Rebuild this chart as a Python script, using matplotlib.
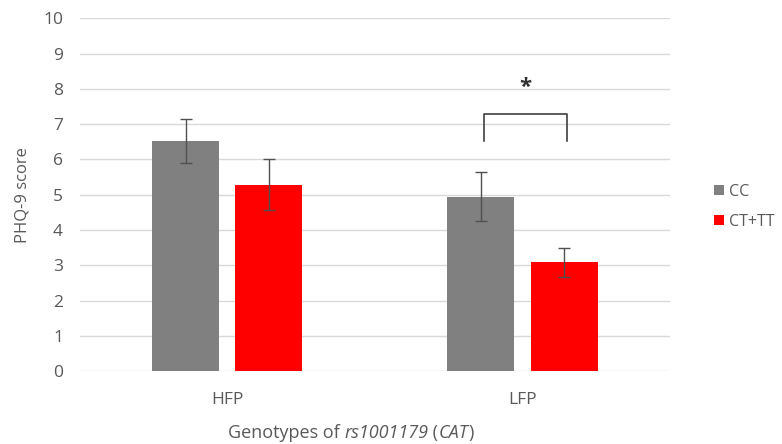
import numpy as np
import matplotlib.pyplot as plt

categories = ["HFP", "LFP"]
series = ["CC", "CT+TT"]
cc_means = [6.52, 4.94]
cc_err = [0.62, 0.69]
ct_means = [5.28, 3.08]
ct_err = [0.72, 0.41]
colors = ["#808080", "#ff0000"]
yticks = list(range(0, 11))

plt.rcParams['font.family'] = ['Open Sans', 'DejaVu Sans']
text_col = "#595959"

fig = plt.figure(figsize=(7.82, 4.44), dpi=100)
ax = fig.add_axes([0.102, 0.164, 0.755, 0.795])

x = np.arange(len(categories))
w = 0.227
off = 0.141
ax.bar(x - off, cc_means, w, color=colors[0], label=series[0], zorder=2)
ax.bar(x + off, ct_means, w, color=colors[1], label=series[1], zorder=2)
ax.errorbar(x - off, cc_means, yerr=cc_err, fmt="none", ecolor="#505050",
            elinewidth=1, capsize=4, capthick=1, zorder=3)
ax.errorbar(x + off, ct_means, yerr=ct_err, fmt="none", ecolor="#505050",
            elinewidth=1, capsize=4, capthick=1, zorder=3)

ax.set_xlim(-0.5, 1.5)
ax.set_ylim(0, 10)
ax.set_yticks(yticks)
ax.set_xticks(x)
ax.set_xticklabels(categories)
ax.yaxis.grid(True, color="#d9d9d9", linewidth=1, zorder=0)
ax.set_axisbelow(True)
for s in ax.spines.values():
    s.set_visible(False)
ax.tick_params(axis="both", length=0, labelsize=12.5, labelcolor=text_col)
ax.tick_params(axis="y", pad=12)
ax.tick_params(axis="x", pad=15)
ax.set_ylabel("PHQ-9 score", fontsize=12, color=text_col, labelpad=9)

# significance bracket
bx0, bx1 = x[1] - off + 0.01, x[1] + off + 0.01
by_top, by_low = 7.29, 6.52
ax.plot([bx0, bx0, bx1, bx1], [by_low, by_top, by_top, by_low],
        color="#404040", linewidth=1.2, solid_joinstyle="round")
ax.text((bx0 + bx1) / 2, 8.05, "*", ha="center", va="center",
        fontsize=16, fontweight="bold", color="#303030")

ax.legend(loc="center left", bbox_to_anchor=(1.05, 0.466), frameon=False,
          fontsize=11.5, labelcolor=text_col, handlelength=0.6, handleheight=0.6,
          handletextpad=0.35, labelspacing=0.9)

# x label with italic parts
t = fig.text(0.2916, 0.014, "Genotypes of ", fontsize=13, color=text_col,
             va="baseline")
parts = [("rs1001179", "italic"), (" (", "normal"), ("CAT", "italic"), (")", "normal")]
prev = t
for s, st in parts:
    prev = ax.annotate(s, xy=(1, 0), xycoords=prev, va="bottom", ha="left",
                       fontsize=13, color=text_col, fontstyle=st)

fig.savefig("out.png", dpi=100)
